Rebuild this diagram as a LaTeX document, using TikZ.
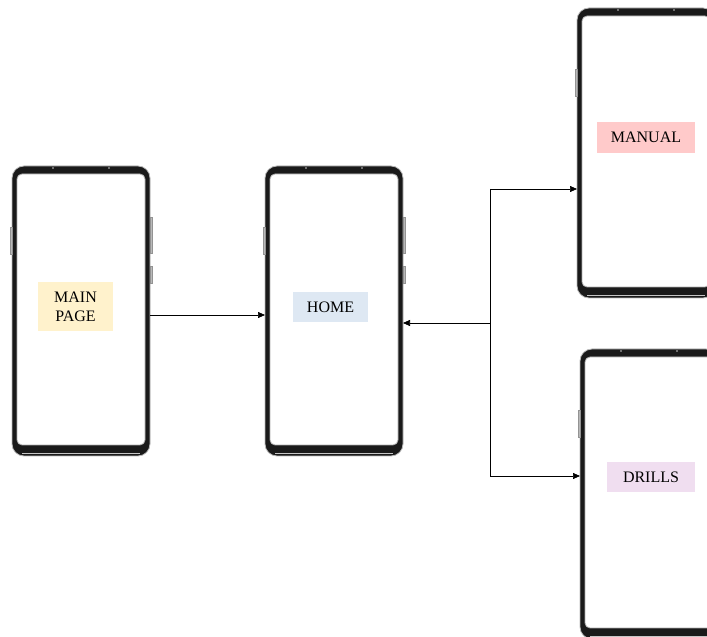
\documentclass[tikz,border=0pt]{standalone}
\usepackage{fontspec}
\setmainfont{Liberation Serif}
\usepackage{tikz}
\usetikzlibrary{arrows.meta,positioning,calc}
\definecolor{TagYellow}{HTML}{FFF2CC}
\definecolor{TagBlue}{HTML}{DEE8F3}
\definecolor{TagRed}{HTML}{FFCACA}
\definecolor{TagPurple}{HTML}{F0DEF0}
\definecolor{Bezel}{HTML}{1A1A1A}
\tikzset{
  phnode/.style={minimum width=138pt, minimum height=290pt, inner sep=0pt, outer sep=0pt},
  phtag/.style={font=\fontsize{16}{19}\selectfont, align=center, inner xsep=14pt, inner ysep=10pt},
  phbtn/.style={fill=gray!55, draw=gray!85, line width=0.4pt},
  wfarr/.style={-{Triangle[length=7pt,width=6pt]}, line width=0.7pt, black},
  wfline/.style={line width=0.7pt, black}
}
% one handset: frame, screen, chin line, top dots and side keys
\newcommand{\handset}[2]{%
  \node[phnode] (#1) at (#2) {};
  \fill[Bezel, rounded corners=12pt] (#1.south west) rectangle (#1.north east);
  \draw[gray!55, line width=0.8pt, rounded corners=12pt] (#1.south west) rectangle (#1.north east);
  \draw[gray!45, line width=0.8pt] ([xshift=10pt,yshift=3pt]#1.south west) -- ([xshift=-10pt,yshift=3pt]#1.south east);
  \fill[white, draw=gray!65, line width=0.8pt, rounded corners=5pt]
    ([xshift=5pt,yshift=11pt]#1.south west) rectangle ([xshift=-5pt,yshift=-8pt]#1.north east);
  \fill[gray!45] ([xshift=41pt,yshift=-2pt]#1.north west) circle (0.9pt)
                 ([xshift=97pt,yshift=-2pt]#1.north west) circle (0.9pt);
  \draw[phbtn] ([xshift=-2pt,yshift=-61pt]#1.north west) rectangle ([yshift=-88pt]#1.north west);
  \draw[phbtn] ([yshift=-51pt]#1.north east) rectangle ([xshift=2pt,yshift=-87pt]#1.north east);
  \draw[phbtn] ([yshift=-100pt]#1.north east) rectangle ([xshift=2pt,yshift=-117pt]#1.north east);
}

\begin{document}
\begin{tikzpicture}[x=1pt, y=1pt]
\useasboundingbox (0,0) rectangle (707,637);
\clip (0,0) rectangle (707,637);

\handset{main}{81,326}
\handset{home}{334,326}
\handset{manual}{646,484}
\handset{drills}{649,143}

\node[phtag, fill=TagYellow, minimum width=75pt] (maintag) at (75.5,330.5) {MAIN\\PAGE};
\node[phtag, fill=TagBlue, minimum width=75pt] (hometag) at (330.5,330) {HOME};
\node[phtag, fill=TagRed, minimum width=98pt] (manualtag) at (646,499.5) {MANUAL};
\node[phtag, fill=TagPurple, minimum width=88pt] (drillstag) at (651,160) {DRILLS};

\coordinate (split) at (490,314);
\coordinate (up) at (490,448);
\coordinate (down) at (490,161);

\draw[wfarr] (main.east |- 0,322) -- (home.west |- 0,322);
\draw[wfline] (up) -- (down);
\draw[wfarr] (split) -- (split -| home.east);
\draw[wfarr] (up) -- (up -| manual.west);
\draw[wfarr] (down) -- (down -| drills.west);
\end{tikzpicture}
\end{document}
